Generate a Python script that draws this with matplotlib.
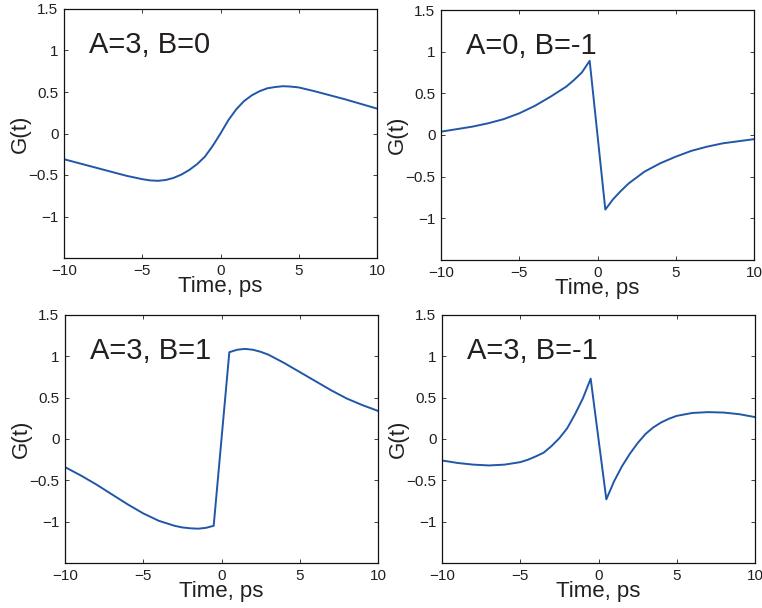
import matplotlib
matplotlib.use("Agg")
import matplotlib.pyplot as plt

plt.rcParams['font.family'] = ['Liberation Sans', 'DejaVu Sans']

# Panel titles
labels = ["A=3, B=0", "A=0, B=-1", "A=3, B=1", "A=3, B=-1"]

# Panel 1 (A=3, B=0)
t1 = [-10, -9, -8, -7, -6, -5, -4.5, -4, -3.5, -3, -2.5, -2, -1.5, -1, -0.5, 0, 0.5, 1, 1.5, 2, 2.5, 3, 3.5, 4, 4.5, 5, 6, 7, 8, 9, 10]
g1 = [-0.31, -0.36, -0.41, -0.46, -0.51, -0.55, -0.565, -0.57, -0.56, -0.535, -0.495, -0.44, -0.37, -0.28, -0.15, 0.0, 0.16, 0.29, 0.39, 0.46, 0.51, 0.545, 0.56, 0.57, 0.565, 0.555, 0.51, 0.46, 0.41, 0.355, 0.30]

# Panel 2 (A=0, B=-1)
t2 = [-10, -9, -8, -7, -6, -5, -4, -3, -2, -1.5, -1, -0.5, 0.5, 1, 1.5, 2, 3, 4, 5, 6, 7, 8, 9, 10]
g2 = [0.04, 0.07, 0.10, 0.14, 0.19, 0.26, 0.35, 0.46, 0.58, 0.66, 0.75, 0.89, -0.895, -0.77, -0.67, -0.58, -0.44, -0.34, -0.26, -0.19, -0.14, -0.10, -0.075, -0.05]

# Panel 3 (A=3, B=1)
t3 = [-10, -9, -8, -7, -6, -5, -4, -3, -2.5, -2, -1.5, -1, -0.5, 0.5, 1, 1.5, 2, 2.5, 3, 4, 5, 6, 7, 8, 9, 10]
g3 = [-0.34, -0.44, -0.55, -0.67, -0.79, -0.90, -0.99, -1.05, -1.07, -1.08, -1.085, -1.075, -1.05, 1.05, 1.08, 1.09, 1.08, 1.055, 1.02, 0.92, 0.81, 0.70, 0.59, 0.49, 0.41, 0.34]

# Panel 4 (A=3, B=-1)
t4 = [-10, -9, -8, -7, -6, -5, -4.5, -4, -3.5, -3, -2.5, -2, -1.5, -1, -0.5, 0.5, 1, 1.5, 2, 2.5, 3, 3.5, 4, 4.5, 5, 6, 7, 8, 9, 10]
g4 = [-0.26, -0.29, -0.31, -0.32, -0.31, -0.28, -0.25, -0.21, -0.165, -0.085, 0.01, 0.13, 0.30, 0.49, 0.73, -0.73, -0.51, -0.33, -0.18, -0.05, 0.06, 0.14, 0.20, 0.245, 0.28, 0.315, 0.325, 0.32, 0.30, 0.265]

series = [(t1, g1), (t2, g2), (t3, g3), (t4, g4)]

xticks = [-10, -5, 0, 5, 10]
yticks = [-1, -0.5, 0, 0.5, 1, 1.5]
ytick_labels = ["\u22121", "\u22120.5", "0", "0.5", "1", "1.5"]
xtick_labels = ["\u221210", "\u22125", "0", "5", "10"]

W, H = 762, 608
fig = plt.figure(figsize=(W / 100, H / 100), dpi=100)

# axes boxes in pixels: (left, top, right, bottom)
boxes = [(64, 9, 377, 258), (441, 10, 754, 260), (65, 315, 378, 563), (442, 315, 755, 563)]

line_color = "#2157a8"
text_color = "#231f20"

for (l, tp, r, b), (t, g), lab in zip(boxes, series, labels):
    ax = fig.add_axes([l / W, 1 - b / H, (r - l) / W, (b - tp) / H])
    ax.plot(t, g, color=line_color, lw=1.4)
    ax.set_xlim(-10, 10)
    ax.set_ylim(-1.5, 1.5)
    ax.set_xticks(xticks)
    ax.set_xticklabels(xtick_labels)
    ax.set_yticks(yticks)
    ax.set_yticklabels(ytick_labels)
    ax.tick_params(direction="in", length=3, width=0.6, top=True, right=True,
                   labelsize=11, colors=text_color, pad=4)
    for sp in ax.spines.values():
        sp.set_linewidth(0.9)
        sp.set_color("#111111")
    ax.set_xlabel("Time, ps", fontsize=16, color=text_color, labelpad=-1)
    ax.set_ylabel("G(t)", fontsize=16, color=text_color, labelpad=-2)
    ax.text(0.08, 0.91, lab, transform=ax.transAxes, fontsize=21,
            color=text_color, va="top", ha="left")

fig.savefig("out.png", dpi=100)
